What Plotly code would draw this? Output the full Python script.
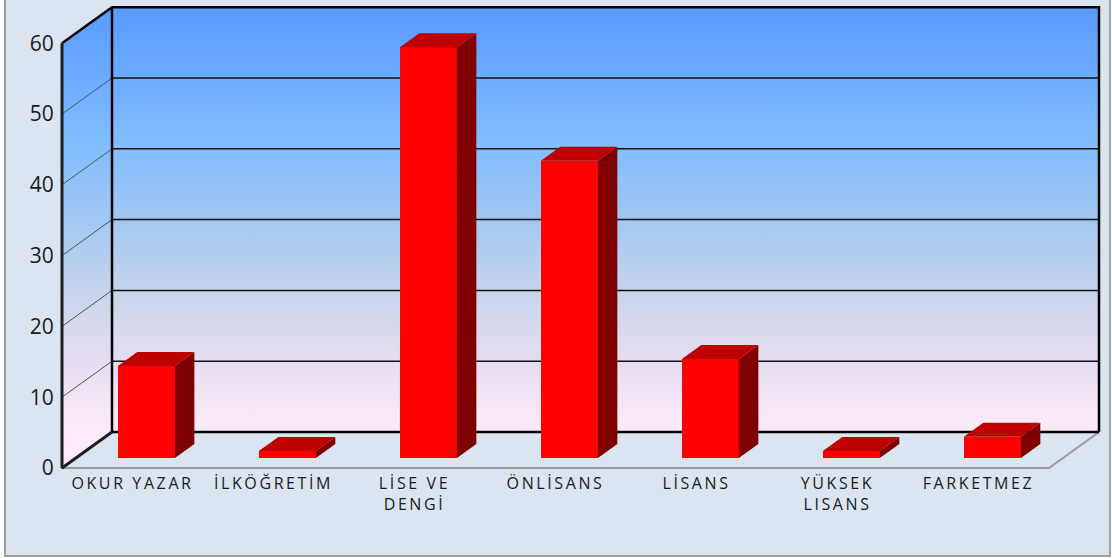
import plotly.graph_objects as go

# ---------------- data ----------------
categories = ["OKUR YAZAR", "İLKÖĞRETİM", "LİSE VE<br>DENGİ", "ÖNLİSANS",
              "LİSANS", "YÜKSEK<br>LISANS", "FARKETMEZ"]
values = [13, 1, 58, 42, 14, 1, 3]
y_ticks = [0, 10, 20, 30, 40, 50, 60]
y_max = 60

# ---------------- geometry (style) ----------------
W, H = 1112, 558
PX_X = 141.0          # px per category slot
PX_Y = 7.08           # px per value unit
FRONT_LEFT_PX = 62
FRONT_ZERO_PX = 468
PLOT_L, PLOT_R, PLOT_T, PLOT_B = 50, 1106, 2, 472

DX = 50 / PX_X        # depth offset (back wall vs front plane)
DY = 36 / PX_Y
BF = 10 / 36          # bar front depth fraction
BD = 14 / 36          # bar depth fraction
BW = 57 / PX_X        # bar width
BX, BY = BF * DX, BF * DY
BDX, BDY = BD * DX, BD * DY

n = len(categories)
XL, XR = -0.5, n - 0.5
x_range = [XL - (FRONT_LEFT_PX - PLOT_L) / PX_X, XL + (PLOT_R - FRONT_LEFT_PX) / PX_X]
y_range = [-(PLOT_B - FRONT_ZERO_PX) / PX_Y, (FRONT_ZERO_PX - PLOT_T) / PX_Y]

wall_scale = [[0.0, "#FDEBF9"], [1/6, "#E6DDF1"], [2/6, "#C6D4EB"], [3/6, "#A2C7F3"],
              [4/6, "#82BEFF"], [5/6, "#6DACFF"], [1.0, "#5A9AFF"]]

fig = go.Figure()

# back wall
fig.add_trace(go.Scatter(
    x=[XL + DX, XR + DX, XR + DX, XL + DX, XL + DX],
    y=[DY, DY, y_max + DY, y_max + DY, DY],
    fill="toself", mode="none",
    fillgradient=dict(type="vertical", colorscale=wall_scale, start=DY, stop=y_max + DY),
    hoverinfo="skip", showlegend=False))
# left wall
fig.add_trace(go.Scatter(
    x=[XL, XL + DX, XL + DX, XL, XL],
    y=[0, DY, y_max + DY, y_max, 0],
    fill="toself", mode="none",
    fillgradient=dict(type="vertical", colorscale=wall_scale, start=DY, stop=y_max + DY),
    hoverinfo="skip", showlegend=False))

# gridlines on back wall
gx, gy = [], []
for v in y_ticks[1:-1]:
    gx += [XL + DX, XR + DX, None]
    gy += [v + DY, v + DY, None]
fig.add_trace(go.Scatter(x=gx, y=gy, mode="lines", line=dict(color="#111111", width=1.5),
                         hoverinfo="skip", showlegend=False))
# gridlines on left wall
lx, ly = [], []
for v in y_ticks[1:-1]:
    lx += [XL, XL + DX, None]
    ly += [v, v + DY, None]
fig.add_trace(go.Scatter(x=lx, y=ly, mode="lines", line=dict(color="#4A5663", width=1),
                         hoverinfo="skip", showlegend=False))

# floor edges (gray)
fig.add_trace(go.Scatter(x=[XL, XR, XR + DX], y=[0, 0, DY], mode="lines",
                         line=dict(color="#9A9A9A", width=2), hoverinfo="skip", showlegend=False))

# wall edges (black)
fig.add_trace(go.Scatter(
    x=[XL + DX, XR + DX, None, XL, XL + DX, XR + DX, XR + DX, None, XL + DX, XL + DX],
    y=[DY, DY, None, y_max, y_max + DY, y_max + DY, DY, None, DY, y_max + DY],
    mode="lines", line=dict(color="#000000", width=2.5), hoverinfo="skip", showlegend=False))
fig.add_trace(go.Scatter(
    x=[XL + DX, XL, XL], y=[DY, 0, y_max],
    mode="lines", line=dict(color="#1E1E1E", width=3), hoverinfo="skip", showlegend=False))

# ---------------- bars (overlay axes) ----------------
bx = [i + BX for i in range(n)]
fig.add_trace(go.Bar(x=bx, y=values, base=BY, width=BW, xaxis="x2", yaxis="y2",
                     marker=dict(color="#FF0000", line=dict(width=0)),
                     hoverinfo="x+y", showlegend=False))
sx, sy, tx, ty = [], [], [], []
for c, v in zip(bx, values):
    l, r = c - BW / 2, c + BW / 2
    sx += [r, r + BDX, r + BDX, r, r, None]
    sy += [BY, BY + BDY, BY + BDY + v, BY + v, BY, None]
    tx += [l, r, r + BDX, l + BDX, l, None]
    ty += [BY + v, BY + v, BY + BDY + v, BY + BDY + v, BY + v, None]
fig.add_trace(go.Scatter(x=sx, y=sy, fill="toself", mode="none", fillcolor="#7F0000",
                         xaxis="x2", yaxis="y2", hoverinfo="skip", showlegend=False))
fig.add_trace(go.Scatter(x=tx, y=ty, fill="toself", mode="none", fillcolor="#BF0000",
                         xaxis="x2", yaxis="y2", hoverinfo="skip", showlegend=False))

pw = PLOT_R - PLOT_L
ph = PLOT_B - PLOT_T
fig.update_layout(
    width=W, height=H,
    margin=dict(l=PLOT_L, r=W - PLOT_R, t=PLOT_T, b=H - PLOT_B),
    paper_bgcolor="#FFFFFF", plot_bgcolor="rgba(0,0,0,0)",
    showlegend=False,
    xaxis=dict(range=x_range, tickvals=list(range(n)), ticktext=categories,
               showgrid=False, zeroline=False, showline=False, ticks="",
               tickfont=dict(family="Open Sans", size=16, color="#1A1A1A"), fixedrange=True),
    yaxis=dict(range=y_range, tickvals=y_ticks, showgrid=False, zeroline=False, showline=False,
               anchor="free", position=(FRONT_LEFT_PX - PLOT_L) / pw,
               ticks="outside", ticklen=4, tickcolor="rgba(0,0,0,0)",
               tickfont=dict(family="Open Sans", size=21, color="#1A1A1A"), fixedrange=True),
    xaxis2=dict(range=x_range, overlaying="x", visible=False, fixedrange=True),
    yaxis2=dict(range=y_range, overlaying="y", visible=False, fixedrange=True),
    bargap=0,
    shapes=[dict(type="rect", xref="paper", yref="paper", layer="below",
                 x0=(5 - PLOT_L) / pw, x1=(1110 - PLOT_L) / pw,
                 y0=(PLOT_B - 556) / ph, y1=(PLOT_B + 5) / ph,
                 fillcolor="#DBE5F1", line=dict(color="#A0A0A0", width=2))],
)

post = """
document.body.style.margin = '0';
document.querySelectorAll('.xtick text').forEach(function (t) {
  t.style.letterSpacing = '2.6px';
});
"""
fig.write_html("out.html", post_script=post, config={"displayModeBar": False})
